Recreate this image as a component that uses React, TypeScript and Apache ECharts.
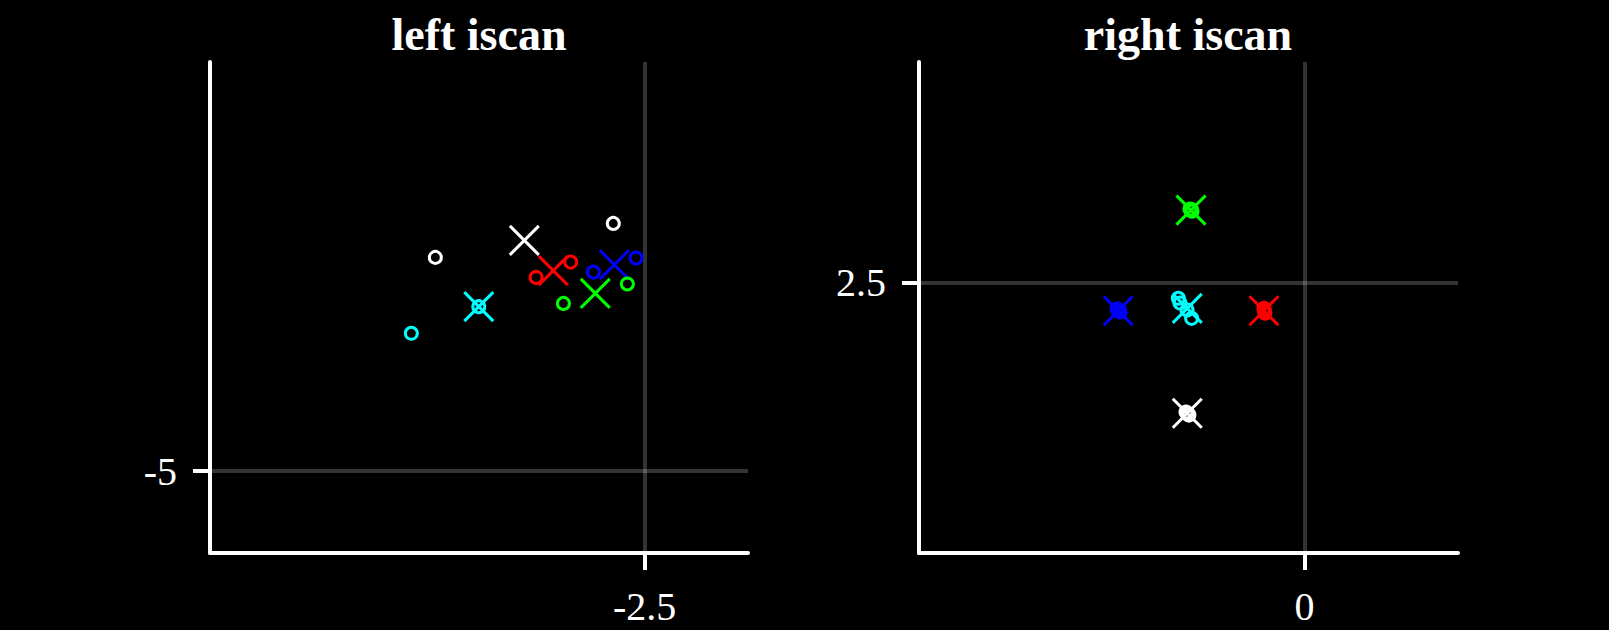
import React, { useEffect, useRef } from "react";
import * as echarts from "echarts";

// Panel titles
const panelTitles = ["left iscan", "right iscan"];
// Colours of the five targets (same order in every array below)
const targetColors = ["#ffffff", "#ff0000", "#0000ff", "#00ff00", "#00ffff"];

// Axis ranges and the single labelled tick of each axis
const leftXRange = [-4.6, -2.0];
const leftYRange = [-5.4, -3.0];
const rightXRange = [-1.86, 0.74];
const rightYRange = [1.18, 3.58];
const leftXTicks = [-2.5];
const leftYTicks = [-5];
const rightXTicks = [0];
const rightYTicks = [2.5];

// Left panel: mean (cross) and individual samples (circles)
const leftCrossX = [-3.081, -2.941, -2.646, -2.738, -3.301];
const leftCrossY = [-3.872, -4.02, -3.991, -4.131, -4.196];
const leftDotsX = [
  [-3.511, -2.651],
  [-3.024, -2.857],
  [-2.747, -2.541],
  [-2.892, -2.583],
  [-3.627, -3.301],
];
const leftDotsY = [
  [-3.955, -3.789],
  [-4.053, -3.978],
  [-4.027, -3.958],
  [-4.18, -4.085],
  [-4.326, -4.196],
];

// Right panel
const rightCrossX = [-0.566, -0.196, -0.899, -0.548, -0.566];
const rightCrossY = [1.863, 2.364, 2.364, 2.856, 2.376];
const rightDotsX = [
  [-0.572, -0.558, -0.566, -0.562],
  [-0.196, -0.191, -0.194],
  [-0.905, -0.89, -0.899, -0.895],
  [-0.553, -0.543, -0.548, -0.546],
  [-0.609, -0.601, -0.567, -0.545],
];
const rightDotsY = [
  [1.869, 1.854, 1.863, 1.858],
  [2.376, 2.352, 2.364],
  [2.373, 2.358, 2.363, 2.368],
  [2.861, 2.851, 2.856, 2.859],
  [2.425, 2.402, 2.368, 2.327],
];

const FONT = "'Liberation Serif', 'Times New Roman', serif";
const CROSS = "path://M0,0L20,20M20,0L0,20";

function axis(gridIndex: number, range: number[], ticks: number[]) {
  return {
    type: "value",
    gridIndex,
    min: range[0],
    max: range[1],
    axisLine: { show: true, onZero: false, lineStyle: { color: "#ffffff", width: 4 } },
    axisTick: {
      show: true,
      inside: false,
      length: 17,
      customValues: ticks,
      lineStyle: { color: "#ffffff", width: 4 },
    },
    axisLabel: {
      show: true,
      customValues: ticks,
      color: "#ffffff",
      fontFamily: FONT,
      fontSize: 40,
      margin: 33,
    },
    splitLine: { show: true, lineStyle: { color: "rgba(255,255,255,0.2)", width: 4 } },
  };
}

export default function App() {
  const ref = useRef<HTMLDivElement>(null);
  useEffect(() => {
    if (!ref.current) return;
    const chart = echarts.init(ref.current, null, { renderer: "svg" });
    const series: any[] = [];
    const panels = [
      { cx: leftCrossX, cy: leftCrossY, dx: leftDotsX, dy: leftDotsY },
      { cx: rightCrossX, cy: rightCrossY, dx: rightDotsX, dy: rightDotsY },
    ];
    panels.forEach((p, gi) => {
      targetColors.forEach((c, i) => {
        series.push({
          type: "scatter",
          xAxisIndex: gi,
          yAxisIndex: gi,
          symbol: CROSS,
          symbolSize: 29,
          silent: true,
          z: 2 + i * 2,
          itemStyle: { color: "rgba(0,0,0,0)", borderColor: c, borderWidth: 3, opacity: 1 },
          data: [[p.cx[i], p.cy[i]]],
        });
        series.push({
          type: "scatter",
          xAxisIndex: gi,
          yAxisIndex: gi,
          symbol: "circle",
          symbolSize: 12,
          silent: true,
          z: 3 + i * 2,
          itemStyle: { color: "rgba(0,0,0,0)", borderColor: c, borderWidth: 3, opacity: 1 },
          data: p.dx[i].map((x, k) => [x, p.dy[i][k]]),
        });
      });
    });
    chart.setOption({
      animation: false,
      backgroundColor: "#000000",
      grid: [
        { left: 210, top: 62, width: 538, height: 491 },
        { left: 919, top: 62, width: 539, height: 491 },
      ],
      xAxis: [axis(0, leftXRange, leftXTicks), axis(1, rightXRange, rightXTicks)],
      yAxis: [axis(0, leftYRange, leftYTicks), axis(1, rightYRange, rightYTicks)],
      graphic: [
        {
          type: "text",
          x: 479,
          y: 34,
          style: {
            text: panelTitles[0],
            fill: "#ffffff",
            font: `bold 46px ${FONT}`,
            align: "center",
            verticalAlign: "middle",
          },
        },
        {
          type: "text",
          x: 1188,
          y: 34,
          style: {
            text: panelTitles[1],
            fill: "#ffffff",
            font: `bold 46px ${FONT}`,
            align: "center",
            verticalAlign: "middle",
          },
        },
      ],
      series,
    });
    return () => chart.dispose();
  }, []);
  return (
    <div
      ref={ref}
      style={{ position: "fixed", left: 0, top: 0, width: 1609, height: 630, background: "#000" }}
    />
  );
}
